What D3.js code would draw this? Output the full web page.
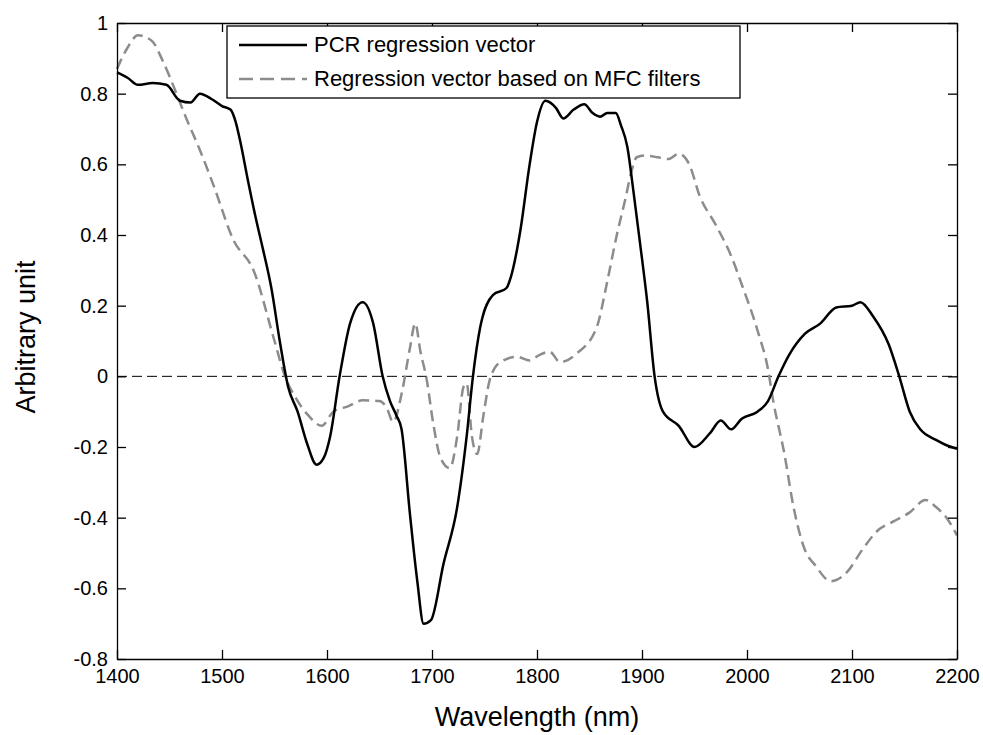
<!DOCTYPE html>
<html>
<head>
<meta charset="utf-8">
<script src="https://cdn.jsdelivr.net/npm/d3@7"></script>
<style>
  body { margin: 0; background: #fff; }
  svg text { font-family: "Liberation Sans", Arial, sans-serif; fill: #000; }
</style>
</head>
<body>
<svg id="chart" width="983" height="735"></svg>
<script>
// PCR regression vector (black, solid)
let pcrNm  = [1400,1410,1420,1434,1447,1460,1470,1479,1490,1500,1508,1513,1517,1525,1532,1539,1547,1555,1563,1572,1581,1590,1597,1603,1612,1622,1634,1644,1653,1660,1666,1671,1679,1686,1692,1699,1711,1724,1733,1739,1746,1758,1771,1775,1784,1793,1800,1808,1818,1825,1835,1845,1853,1860,1867,1875,1880,1886,1892,1898,1905,1912,1920,1935,1950,1965,1975,1985,1995,2010,2020,2030,2040,2055,2070,2085,2100,2108,2120,2135,2145,2155,2165,2180,2190,2200]
let pcrVal = [0.86,0.845,0.825,0.83,0.825,0.78,0.775,0.80,0.785,0.765,0.755,0.72,0.67,0.55,0.45,0.36,0.25,0.10,-0.03,-0.10,-0.19,-0.25,-0.23,-0.17,0.0,0.15,0.21,0.15,0.0,-0.07,-0.11,-0.15,-0.39,-0.58,-0.70,-0.69,-0.53,-0.37,-0.17,0.0,0.14,0.23,0.25,0.28,0.41,0.60,0.72,0.78,0.76,0.73,0.755,0.77,0.745,0.735,0.745,0.745,0.71,0.65,0.52,0.38,0.21,0.0,-0.10,-0.14,-0.20,-0.16,-0.125,-0.15,-0.12,-0.10,-0.07,0.0,0.06,0.12,0.15,0.195,0.20,0.21,0.17,0.09,0.0,-0.10,-0.15,-0.18,-0.195,-0.205]

// Regression vector based on MFC filters (grey, dashed)
let mfcNm  = [1400,1403,1410,1420,1433,1444,1454,1466,1479,1492,1511,1530,1550,1560,1570,1582,1595,1606,1620,1634,1650,1657,1663,1671,1679,1684,1689,1695,1701,1708,1717,1724,1730,1733,1738,1743,1749,1755,1765,1781,1793,1802,1812,1822,1838,1857,1867,1876,1884,1890,1895,1903,1915,1925,1935,1945,1955,1970,1985,1995,2010,2020,2025,2035,2045,2055,2065,2080,2095,2110,2125,2140,2155,2170,2180,2190,2200]
let mfcVal = [0.87,0.89,0.93,0.965,0.95,0.89,0.82,0.73,0.64,0.54,0.385,0.30,0.10,0.0,-0.06,-0.11,-0.14,-0.10,-0.085,-0.068,-0.07,-0.09,-0.13,-0.05,0.08,0.15,0.07,-0.01,-0.13,-0.23,-0.26,-0.17,-0.03,-0.02,-0.17,-0.22,-0.11,-0.01,0.04,0.055,0.045,0.06,0.07,0.04,0.065,0.14,0.27,0.40,0.50,0.58,0.62,0.625,0.62,0.615,0.63,0.60,0.51,0.43,0.34,0.26,0.13,0.02,-0.07,-0.21,-0.38,-0.49,-0.535,-0.58,-0.555,-0.49,-0.435,-0.41,-0.385,-0.35,-0.37,-0.40,-0.45]

let xTicks = [1400,1500,1600,1700,1800,1900,2000,2100,2200]
let yTicks = [-0.8,-0.6,-0.4,-0.2,0,0.2,0.4,0.6,0.8,1]

let legendLabels = ['PCR regression vector', 'Regression vector based on MFC filters']

let svg = d3.select('#chart')
let plotLeft = 117, plotRight = 957, plotTop = 23, plotBottom = 659

let x = d3.scaleLinear().domain([1400, 2200]).range([plotLeft, plotRight])
let y = d3.scaleLinear().domain([-0.8, 1]).range([plotBottom, plotTop])

let pcr = pcrNm.map((d, i) => [d, pcrVal[i]])
let mfc = mfcNm.map((d, i) => [d, mfcVal[i]])

let line = d3.line()
    .x(d => x(d[0]))
    .y(d => y(d[1]))
    .curve(d3.curveMonotoneX)

// zero reference line
svg.append('line')
    .attr('x1', x(1400)).attr('x2', x(2200))
    .attr('y1', y(0)).attr('y2', y(0))
    .attr('stroke', '#000')
    .attr('stroke-width', 1)
    .attr('stroke-dasharray', '10,5')

svg.append('path')
    .datum(mfc)
    .attr('d', line)
    .attr('fill', 'none')
    .attr('stroke', '#8c8c8c')
    .attr('stroke-width', 2.5)
    .attr('stroke-dasharray', '11,6')

svg.append('path')
    .datum(pcr)
    .attr('d', line)
    .attr('fill', 'none')
    .attr('stroke', '#000')
    .attr('stroke-width', 2.5)

// axes box with inward ticks on all four sides
let tickLen = 9
let axisFont = 20

svg.append('g')
    .attr('transform', `translate(0,${plotBottom})`)
    .call(d3.axisBottom(x).tickValues(xTicks).tickSizeInner(-tickLen).tickSizeOuter(0).tickPadding(10)
        .tickFormat(d3.format('d')))
    .call(g => g.selectAll('text').attr('font-size', axisFont).attr('dy', '0.72em'))

svg.append('g')
    .attr('transform', `translate(0,${plotTop})`)
    .call(d3.axisTop(x).tickValues(xTicks).tickSizeInner(-tickLen).tickSizeOuter(0).tickFormat(''))

svg.append('g')
    .attr('transform', `translate(${plotLeft},0)`)
    .call(d3.axisLeft(y).tickValues(yTicks).tickSizeInner(-tickLen).tickSizeOuter(0).tickPadding(9)
        .tickFormat(d => String(+d.toFixed(1))))
    .call(g => g.selectAll('text').attr('font-size', axisFont))

svg.append('g')
    .attr('transform', `translate(${plotRight},0)`)
    .call(d3.axisRight(y).tickValues(yTicks).tickSizeInner(-tickLen).tickSizeOuter(0).tickFormat(''))

svg.selectAll('.domain').attr('stroke', '#000').attr('stroke-width', 1.3)
svg.selectAll('.tick line').attr('stroke', '#000').attr('stroke-width', 1.3)
svg.selectAll('.tick text').attr('fill', '#000').attr('font-family', '"Liberation Sans", Arial, sans-serif')

// axis titles
svg.append('text')
    .attr('x', (plotLeft + plotRight) / 2)
    .attr('y', 726)
    .attr('text-anchor', 'middle')
    .attr('font-size', 27)
    .text('Wavelength (nm)')

svg.append('text')
    .attr('transform', `translate(35,337) rotate(-90)`)
    .attr('text-anchor', 'middle')
    .attr('font-size', 27)
    .text('Arbitrary unit')

// legend
let legend = svg.append('g').attr('transform', 'translate(227,26)')
legend.append('rect')
    .attr('width', 513).attr('height', 72)
    .attr('fill', '#fff')
    .attr('stroke', '#000')
    .attr('stroke-width', 1.3)

let legendStyles = [
    { stroke: '#000', dash: null },
    { stroke: '#8c8c8c', dash: '14,7' }
]
legendLabels.forEach((label, i) => {
    let ly = 19 + i * 34
    legend.append('line')
        .attr('x1', 12).attr('x2', 80)
        .attr('y1', ly).attr('y2', ly)
        .attr('stroke', legendStyles[i].stroke)
        .attr('stroke-width', 2.5)
        .attr('stroke-dasharray', legendStyles[i].dash)
    legend.append('text')
        .attr('x', 87)
        .attr('y', ly + 7)
        .attr('font-size', 22)
        .text(label)
})
</script>
</body>
</html>
